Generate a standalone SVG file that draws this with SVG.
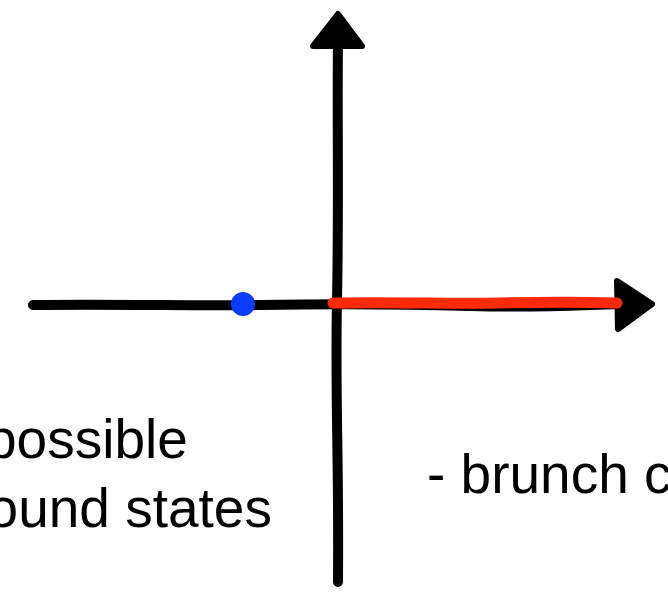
<svg xmlns="http://www.w3.org/2000/svg" width="668" height="593" viewBox="0 0 668 593">
<style>
.ax{fill:none;stroke:#000;stroke-width:10;stroke-linecap:round;stroke-linejoin:round}
.head{fill:#000;stroke:#000;stroke-width:6;stroke-linejoin:round}
.lbl{font-family:"Liberation Sans",Arial,Helvetica,sans-serif;font-size:55px;fill:#000}
</style>
<rect width="668" height="593" fill="#fff"/>
<g id="connectors">
<path id="x-axis" class="ax" d="M33,305 C120,304 200,306 260,305 S400,304 470,306 S580,305 618,304"/>
<polygon class="head" points="617,281 652,304 618,329"/>
<path id="y-axis" class="ax" d="M338,40 C337,120 339,200 337,300 S339,450 338,582"/>
<polygon class="head" points="338,14 362,46 313,46"/>
</g>
<g id="branch-cut">
<path d="M333,303 C400,302 450,304 500,303 S580,302 617,303" fill="none" stroke="#ff2a0a" stroke-width="11" stroke-linecap="round"/>
</g>
<g id="bound-state">
<circle cx="243" cy="304" r="12" fill="#0a3cff"/>
</g>
<g id="label-left">
<text class="lbl" x="-14" y="458">possible</text>
<text class="lbl" x="-43" y="527">bound states</text>
</g>
<g id="label-right">
<text class="lbl" x="427" y="493">- brunch c</text>
</g>
</svg>
